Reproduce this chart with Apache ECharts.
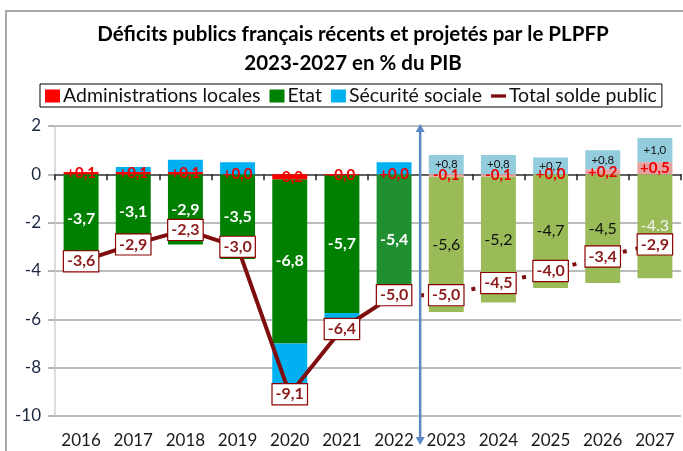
<!DOCTYPE html>
<html>
<head>
<meta charset="utf-8">
<script src="https://cdn.jsdelivr.net/npm/echarts@6/dist/echarts.min.js"></script>
<style>
html, body { margin: 0; padding: 0; background: #fff; }
#chart { width: 683px; height: 451px; }
</style>
</head>
<body>
<div id="chart"></div>
<script>
// données (en % du PIB)
var years = ['2016', '2017', '2018', '2019', '2020', '2021', '2022', '2023', '2024', '2025', '2026', '2027']
var adminLocales = [0.1, 0.1, 0.1, 0.0, -0.2, -0.04, 0.0, -0.1, -0.1, 0.0, 0.2, 0.5]
var etat = [-3.7, -3.1, -2.9, -3.5, -6.8, -5.7, -5.4, -5.6, -5.2, -4.7, -4.5, -4.3]
var securiteSociale = [0.0, 0.2, 0.5, 0.5, -2.1, -0.7, 0.5, 0.8, 0.8, 0.7, 0.8, 1.0]
var totalSolde = [-3.6, -2.9, -2.3, -3.0, -9.1, -6.4, -5.0, -5.0, -4.5, -4.0, -3.4, -2.9]
var firstProjected = 7 // 2023 = PLPFP

var font = 'Lato'
var red = '#ff0000', green = '#008000', blue = '#00b0f0', dark = '#7f0d0d'

function fmt(v) {
  var s = v.toFixed(1)
  if (v >= 0) s = '+' + s
  return s.replace('.', ',')
}

function barItems(values, histColor, projColor, labelFn) {
  return values.map(function (v, i) {
    var proj = i >= firstProjected
    var item = { value: v, itemStyle: { color: proj ? projColor : histColor } }
    if (labelFn) item.label = labelFn(i, proj)
    return item
  })
}

var adminData = barItems(adminLocales, red, '#e6a1a1', function () {
  return { show: true }
})
var etatData = barItems(etat, green, '#9bbb59', function (i, proj) {
  if (!proj) return { show: true, color: '#fff', fontWeight: 'bold' }
  if (i === years.length - 1) return { show: true, color: '#f4f4f4', formatter: function (p) { return p.value.toFixed(1) } }
  return { show: true, color: '#111', fontWeight: 'normal' }
})
etatData[6].itemStyle.color = '#1f8f2f'
var secuData = barItems(securiteSociale, blue, '#93cddd', function (i, proj) {
  return { show: proj }
})

var totalHist = totalSolde.map(function (v, i) { return i < firstProjected ? v : null })
var totalProj = totalSolde.map(function (v, i) {
  if (i < firstProjected - 1) return null
  if (i === firstProjected - 1) return { value: v, label: { show: false } }
  return v
})

var lineLabel = {
  show: true,
  position: 'inside',
  formatter: function (p) { return fmt(p.value) },
  color: '#8b1a1a',
  fontWeight: 'bold',
  fontSize: 16,
  fontFamily: font,
  backgroundColor: '#fff',
  borderColor: '#8b0000',
  borderWidth: 1.2,
  padding: [3, 3, 1, 3]
}

var chart = echarts.init(document.getElementById('chart'))
chart.setOption({
  animation: false,
  title: {
    text: 'Déficits publics français récents et projetés par le PLPFP\n2023-2027 en % du PIB',
    left: 348,
    top: 15,
    textAlign: 'center',
    textStyle: { fontFamily: font, fontSize: 20.5, fontWeight: 'bold', color: '#000', lineHeight: 29 }
  },
  legend: {
    left: 40,
    top: 84,
    data: [
      { name: 'Administrations locales', icon: 'rect' },
      { name: 'Etat', icon: 'rect' },
      { name: 'Sécurité sociale', icon: 'rect' },
      { name: 'Total solde public', icon: 'path://M0,0h18v4h-18z', itemStyle: { color: dark } }
    ],
    itemWidth: 15,
    itemHeight: 13,
    itemGap: 9,
    symbolKeepAspect: true,
    padding: [2, 5, 1, 5],
    borderColor: '#000',
    borderWidth: 1,
    borderRadius: 0,
    textStyle: { fontFamily: font, fontSize: 19.5, color: '#111', padding: [0, 0, 0, -2] }
  },
  grid: { left: 55, right: 2, top: 126, bottom: 35 },
  xAxis: [{
    type: 'category',
    data: years,
    axisLine: { onZero: true, lineStyle: { color: '#444', width: 1.5 } },
    axisTick: { show: true, length: 6, interval: 0, lineStyle: { color: '#222', width: 1.5 } },
    axisLabel: { show: false },
    splitLine: { show: false }
  }, {
    type: 'category',
    data: years,
    position: 'bottom',
    axisLine: { show: false, onZero: false },
    axisTick: { show: false },
    axisLabel: { fontFamily: font, fontSize: 17, color: '#1a1a1a', margin: 16, interval: 0 }
  }],
  yAxis: {
    type: 'value',
    min: -10,
    max: 2,
    interval: 2,
    axisLine: { show: true, lineStyle: { color: '#d0d0d0', width: 1.5 } },
    axisTick: { show: true, length: 7, lineStyle: { color: '#a0a0a0', width: 1.5 } },
    axisLabel: { fontFamily: font, fontSize: 17, color: '#1c2740', margin: 14 },
    splitLine: { lineStyle: { color: '#a6a6a6', width: 1.5 } }
  },
  series: [{
    name: 'Administrations locales',
    type: 'bar',
    stack: 'solde',
    barWidth: '67%',
    z: 3,
    itemStyle: { color: red },
    data: adminData,
    label: {
      position: 'inside',
      formatter: function (p) { return fmt(p.value) },
      color: '#ee0000',
      fontWeight: 'bold',
      fontSize: 15,
      fontFamily: font
    }
  }, {
    name: 'Etat',
    type: 'bar',
    stack: 'solde',
    itemStyle: { color: green },
    data: etatData,
    label: {
      position: 'inside',
      formatter: function (p) { return fmt(p.value) },
      fontSize: 16,
      fontFamily: font
    }
  }, {
    name: 'Sécurité sociale',
    type: 'bar',
    stack: 'solde',
    itemStyle: { color: blue },
    data: secuData,
    label: {
      position: 'inside',
      formatter: function (p) { return fmt(p.value) },
      color: '#111',
      fontSize: 11.5,
      fontFamily: font
    }
  }, {
    name: 'Total solde public',
    type: 'line',
    data: totalHist,
    symbol: 'rect',
    symbolSize: 4,
    itemStyle: { color: dark },
    lineStyle: { color: dark, width: 4 },
    label: lineLabel,
    z: 5
  }, {
    name: 'Total projeté',
    type: 'line',
    data: totalProj,
    symbol: 'rect',
    symbolSize: 4,
    itemStyle: { color: dark },
    lineStyle: { color: dark, width: 4, type: [4, 9] },
    label: lineLabel,
    z: 5
  }]
})

// flèche verticale séparant réalisé / projeté
var xa = (chart.convertToPixel({ xAxisIndex: 0 }, years[firstProjected - 1]) +
          chart.convertToPixel({ xAxisIndex: 0 }, years[firstProjected])) / 2
var yTop = chart.convertToPixel({ yAxisIndex: 0 }, 2) - 2
var yBot = chart.convertToPixel({ yAxisIndex: 0 }, -10) + 29
var arrowColor = '#5b87c5'
chart.setOption({
  graphic: [{
    type: 'rect',
    shape: { x: 6, y: 11, width: 700, height: 460 },
    style: { fill: 'none', stroke: '#a8a8a8', lineWidth: 2 },
    silent: true
  }, {
    type: 'line',
    shape: { x1: xa, y1: yTop + 6, x2: xa, y2: yBot - 6 },
    style: { stroke: arrowColor, lineWidth: 2.5 },
    z: 100
  }, {
    type: 'polygon',
    shape: { points: [[xa, yTop], [xa - 4.5, yTop + 8], [xa + 4.5, yTop + 8]] },
    style: { fill: arrowColor },
    z: 100
  }, {
    type: 'polygon',
    shape: { points: [[xa, yBot], [xa - 4.5, yBot - 8], [xa + 4.5, yBot - 8]] },
    style: { fill: arrowColor },
    z: 100
  }]
})
</script>
</body>
</html>
